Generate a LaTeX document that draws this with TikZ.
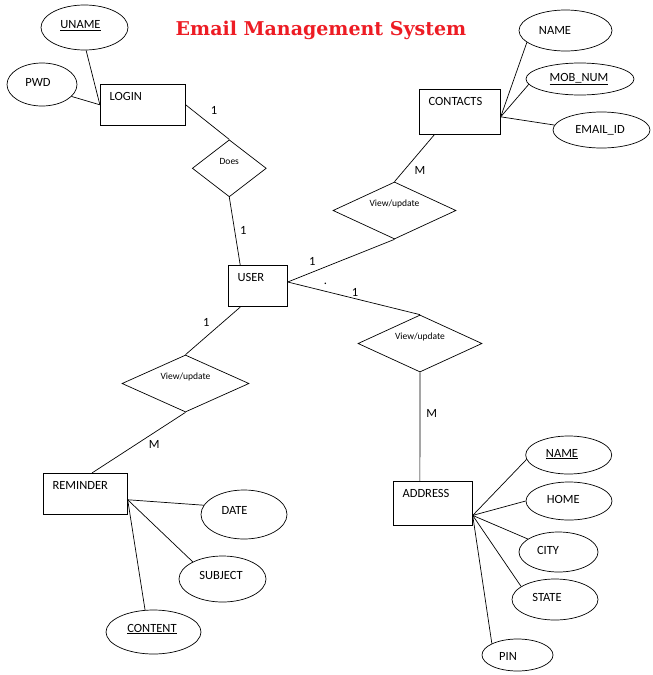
\documentclass[tikz,border=0pt]{standalone}
\usepackage{fontspec}
\usepackage{tikz}
\usetikzlibrary{shapes.geometric}
\newfontfamily\erfont{Carlito}
\newfontfamily\titlefont{DejaVu Serif}
\definecolor{titlered}{RGB}{237,28,36}

\begin{document}
\begin{tikzpicture}[x=1pt, y=-1pt,
    entity/.style={draw, rectangle, line width=0.8pt, inner sep=0pt},
    attr/.style={draw, ellipse, line width=0.7pt, inner sep=0pt},
    rel/.style={draw, diamond, line width=0.7pt, inner sep=0pt},
    etext/.style={anchor=north west, inner xsep=9.5pt, inner ysep=8.3pt, font={\erfont\fontsize{12.5}{14}\selectfont}},
    atext/.style={anchor=center, inner sep=0pt, font={\erfont\fontsize{12.5}{14}\selectfont}},
    rtext/.style={anchor=center, inner sep=0pt, yshift=6.5pt, font={\erfont\fontsize{9.5}{11}\selectfont}},
    card/.style={inner sep=0pt, font={\erfont\fontsize{12.5}{14}\selectfont}},
    link/.style={line width=0.7pt}]
    \useasboundingbox (0,0) rectangle (653,675);

    % Title
    \node[anchor=base, text=titlered, font={\titlefont\bfseries\fontsize{19}{22}\selectfont}] (title) at (321,35) {Email Management System};

    % Draw the entities
    \node[entity, minimum width=85pt, minimum height=41pt, label={[etext]north west:LOGIN}] (login) at (142.8,104.8) {};
    \node[entity, minimum width=81pt, minimum height=45pt, label={[etext]north west:CONTACTS}] (contacts) at (459.8,111.8) {};
    \node[entity, minimum width=59pt, minimum height=41pt, label={[etext]north west:USER}] (user) at (257.8,286.2) {};
    \node[entity, minimum width=84pt, minimum height=41pt, label={[etext]north west:REMINDER}] (reminder) at (85.3,493.8) {};
    \node[entity, minimum width=79pt, minimum height=44pt, label={[etext]north west:ADDRESS}] (address) at (432.8,503.2) {};

    % Draw the relationships
    \node[rel, minimum width=74pt, minimum height=57pt, label={[rtext]center:Does}] (does) at (229.3,168.3) {};
    \node[rel, minimum width=123pt, minimum height=57pt, label={[rtext]center:View/update}] (crel) at (394.5,210.5) {};
    \node[rel, minimum width=124pt, minimum height=57pt, label={[rtext]center:View/update}] (arel) at (420,343.5) {};
    \node[rel, minimum width=127pt, minimum height=57pt, label={[rtext]center:View/update}] (rrel) at (185.5,383.5) {};

    % Draw the attributes of login
    \node[attr, minimum width=87pt, minimum height=45pt, label={[atext, xshift=-4pt, yshift=2pt]center:\underline{UNAME}}] (uname) at (84.5,27.5) {};
    \node[attr, minimum width=70pt, minimum height=43pt, label={[atext, xshift=-4pt, yshift=2.5pt]center:PWD}] (pwd) at (42,84.5) {};

    % Draw the attributes of contacts
    \node[attr, minimum width=93pt, minimum height=41pt, label={[atext, xshift=-10.5pt]center:NAME}] (cname) at (565.5,30.5) {};
    \node[attr, minimum width=108pt, minimum height=32pt, label={[atext, xshift=-1pt]center:\underline{MOB\_NUM}}] (mobnum) at (580,79) {};
    \node[attr, minimum width=97pt, minimum height=36pt, label={[atext, xshift=-1.5pt]center:EMAIL\_ID}] (email) at (601.5,130) {};

    % Draw the attributes of reminder
    \node[attr, minimum width=86pt, minimum height=49pt, label={[atext, xshift=-9.5pt, yshift=4.5pt]center:DATE}] (date) at (244,514.5) {};
    \node[attr, minimum width=87pt, minimum height=46pt, label={[atext, xshift=-1.5pt, yshift=4pt]center:SUBJECT}] (subject) at (222.5,579) {};
    \node[attr, minimum width=95pt, minimum height=44pt, label={[atext, xshift=-1.5pt, yshift=3pt]center:\underline{CONTENT}}] (content) at (153.5,632) {};

    % Draw the attributes of address
    \node[attr, minimum width=86pt, minimum height=38pt, label={[atext, xshift=-6.7pt, yshift=1pt]center:\underline{NAME}}] (aname) at (568.7,455) {};
    \node[attr, minimum width=86pt, minimum height=38pt, label={[atext, xshift=-5.7pt, yshift=2pt]center:HOME}] (home) at (569,501) {};
    \node[attr, minimum width=79pt, minimum height=40pt, label={[atext, xshift=-10.5pt, yshift=2pt]center:CITY}] (city) at (558.5,552) {};
    \node[attr, minimum width=86pt, minimum height=41pt, label={[atext, xshift=-8pt, yshift=2.5pt]center:STATE}] (state) at (555,599.5) {};
    \node[attr, minimum width=71pt, minimum height=32pt, label={[atext, xshift=-9.5pt, yshift=-1pt]center:PIN}] (pin) at (517.5,655) {};

    % Connect entities and relationships
    \draw[link] (login.east) -- (does.north);
    \draw[link] (does.south) -- (user.130);
    \draw[link] (user.8) -- (crel.south);
    \draw[link] (crel.north) -- (contacts.-138);
    \draw[link] (user.8) -- (arel.north);
    \draw[link] (arel.south) -- (address.120);
    \draw[link] (user.-130) -- (rrel.north);
    \draw[link] (rrel.south) -- (reminder.72);

    % Connect attributes
    \draw[link] (uname.274) -- (login.west);
    \draw[link] (pwd.-22) -- (login.west);
    \foreach \a/\ang in {cname/197, mobnum/186, email/174}
    \draw[link] (contacts.-7) -- (\a.\ang);
    \foreach \a/\ang in {date/167, subject/150, content/111}
    \draw[link] (reminder.-8) -- (\a.\ang);
    \foreach \a/\ang in {aname/186, home/180, city/157, state/159, pin/156}
    \draw[link] (address.-17) -- (\a.\ang);

    % Cardinalities
    \node[card] (c1) at (214,110) {1};
    \node[card] (c2) at (243.3,230.7) {1};
    \node[card] (c3) at (312.3,261.7) {1};
    \node[card, anchor=base] (dot) at (325.5,284.5) {.};
    \node[card] (c4) at (355,292.3) {1};
    \node[card] (m1) at (420,170.3) {M};
    \node[card] (c5) at (206.3,322) {1};
    \node[card] (m2) at (154.3,444) {M};
    \node[card] (m3) at (431.7,413.3) {M};
\end{tikzpicture}
\end{document}
